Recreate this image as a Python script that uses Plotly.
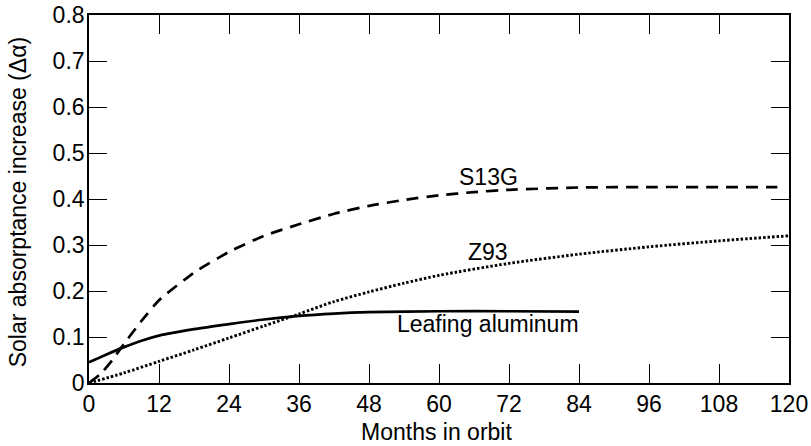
import plotly.graph_objects as go

# Leafing aluminum (solid)
leaf_months = [0, 3, 6, 9, 12, 18, 24, 30, 36, 42, 48, 60, 72, 84]
leaf_values = [0.045, 0.062, 0.078, 0.092, 0.103, 0.117, 0.128, 0.138, 0.146, 0.151, 0.154, 0.156, 0.156, 0.155]

# S13G (dashed)
s13g_months = [0, 2, 4, 6, 9, 12, 18, 24, 30, 36, 42, 48, 54, 60, 66, 72, 84, 96, 108, 118]
s13g_values = [0.0, 0.02, 0.05, 0.085, 0.135, 0.18, 0.24, 0.285, 0.32, 0.345, 0.368, 0.385, 0.398, 0.408,
               0.415, 0.42, 0.425, 0.426, 0.426, 0.426]

# Z93 (dotted)
z93_months = [0, 6, 12, 18, 24, 30, 36, 42, 48, 54, 60, 72, 84, 96, 108, 120]
z93_values = [0.0, 0.022, 0.047, 0.072, 0.098, 0.124, 0.15, 0.177, 0.198, 0.217, 0.234, 0.26, 0.28,
              0.296, 0.309, 0.32]

x_ticks = [0, 12, 24, 36, 48, 60, 72, 84, 96, 108, 120]
y_ticks = [0, 0.1, 0.2, 0.3, 0.4, 0.5, 0.6, 0.7, 0.8]

labels = ["S13G", "Z93", "Leafing aluminum"]
label_x = [68.4, 68.4, 68.4]
label_y = [0.447, 0.285, 0.128]

x_title = "Months in orbit"
y_title = "Solar absorptance increase (Δα)"

FONT = "Liberation Sans, Arial, Helvetica, sans-serif"
FS = 23

fig = go.Figure()
fig.add_trace(go.Scatter(x=leaf_months, y=leaf_values, mode="lines", line_shape="spline",
                         line=dict(color="black", width=2.7, smoothing=0.8), name="Leafing aluminum"))
fig.add_trace(go.Scatter(x=s13g_months, y=s13g_values, mode="lines", line_shape="spline",
                         line=dict(color="black", width=2.7, dash="12px,8px", smoothing=0.5), name="S13G"))
fig.add_trace(go.Scatter(x=z93_months, y=z93_values, mode="lines", line_shape="spline",
                         line=dict(color="black", width=2.9, dash="2.5px,2px", smoothing=0.8), name="Z93"))

for t, xx, yy in zip(labels, label_x, label_y):
    fig.add_annotation(x=xx, y=yy, text=t, showarrow=False, xanchor="center", yanchor="middle",
                       font=dict(family=FONT, size=FS, color="black"))

fig.add_annotation(xref="paper", yref="paper", x=0.496, y=-0.134, text=x_title, showarrow=False,
                   xanchor="center", yanchor="middle", font=dict(family=FONT, size=FS, color="black"))
fig.add_annotation(xref="paper", yref="paper", x=-0.102, y=0.49, text=y_title, showarrow=False,
                   textangle=-90, xanchor="center", yanchor="middle",
                   font=dict(family=FONT, size=FS, color="black"))

fig.update_layout(
    width=811, height=446,
    margin=dict(l=89, r=22, t=15, b=63, autoexpand=False),
    paper_bgcolor="white", plot_bgcolor="white",
    showlegend=False,
    font=dict(family=FONT, size=FS, color="black"),
)
fig.update_xaxes(range=[0, 120], tickvals=x_ticks, ticks="inside", ticklen=19, tickwidth=1.3,
                 tickcolor="black", showline=True, linecolor="black", linewidth=1.6, mirror="ticks",
                 showgrid=False, zeroline=False, automargin=False, ticklabeloverflow="allow")
fig.update_yaxes(range=[0, 0.8], tickvals=y_ticks, ticktext=[str(v) if v else "0" for v in y_ticks],
                 ticks="inside", ticklen=18, tickwidth=1.3, ticklabelstandoff=-2,
                 tickcolor="black", showline=True, linecolor="black", linewidth=1.6, mirror="ticks",
                 showgrid=False, zeroline=False, automargin=False, ticklabeloverflow="allow")

fig.write_html("out.html", config={"displayModeBar": False},
               post_script="document.body.style.margin='0';document.body.style.overflow='hidden';")
